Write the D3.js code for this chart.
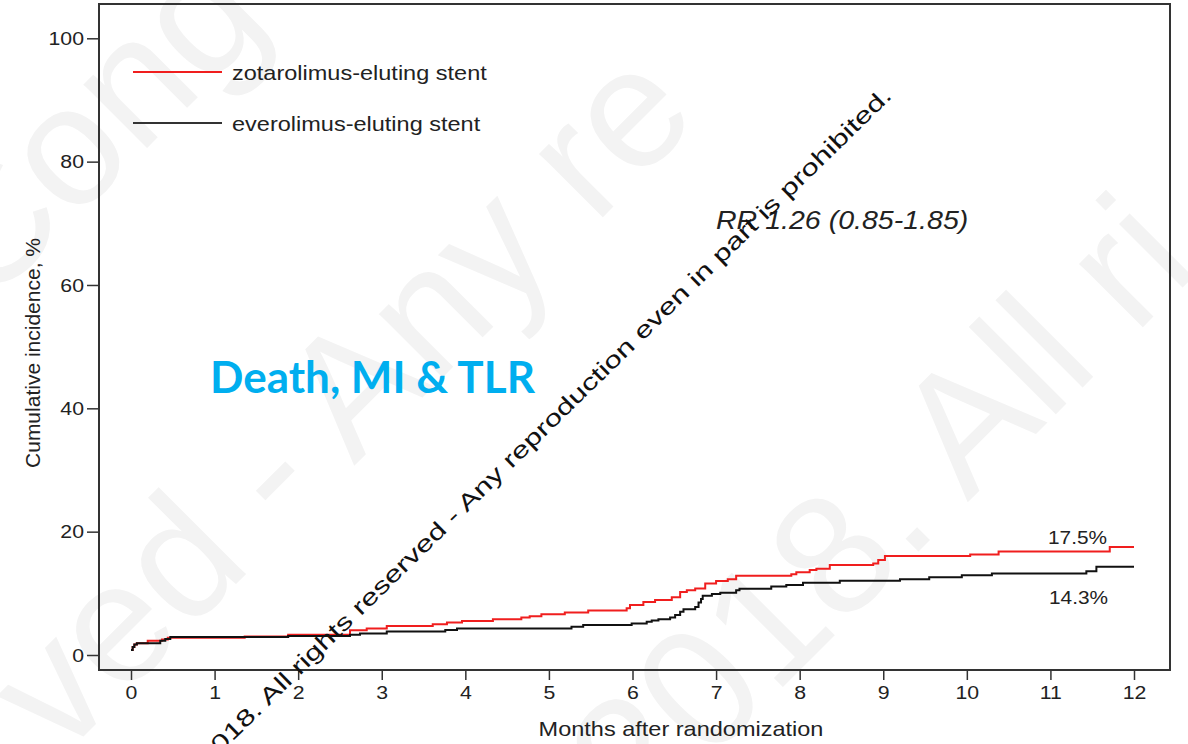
<!DOCTYPE html>
<html>
<head>
<meta charset="utf-8">
<script src="https://cdn.jsdelivr.net/npm/d3@7/dist/d3.min.js"></script>
<style>
  html, body { margin: 0; padding: 0; background: #fff; }
  svg { display: block; }
  .tick text { font-family: "Liberation Sans", Arial, sans-serif; fill: #222; }
</style>
</head>
<body>
<svg id="chart" width="1188" height="744"></svg>
<script>
// Cumulative incidence of death, MI & TLR over 12 months (Kaplan-Meier style steps)
const zotaTimes  = [0, 0.02, 0.04, 0.07, 0.2, 0.37, 0.44, 1.36, 1.88, 2.62, 2.82, 3.06, 3.61, 3.78, 3.96, 4.33, 4.67, 4.77, 4.91, 5.19, 5.47, 5.93, 5.97, 6.13, 6.27, 6.47, 6.57, 6.65, 6.75, 6.87, 7.0, 7.14, 7.24, 7.9, 7.96, 8.12, 8.2, 8.36, 8.88, 8.94, 9.02, 10.04, 10.38, 11.71, 12];
const zotaValues = [0.8, 1.3, 1.7, 1.9, 2.3, 2.5, 2.8, 3.0, 3.3, 4.0, 4.3, 4.7, 5.0, 5.25, 5.5, 5.8, 6.1, 6.3, 6.6, 6.9, 7.2, 7.6, 8.1, 8.6, 8.9, 9.35, 10.2, 10.5, 10.8, 11.6, 12.0, 12.3, 12.85, 13.1, 13.4, 13.8, 14.0, 14.6, 14.85, 15.4, 16.05, 16.3, 16.8, 17.5, 17.5];

const everoTimes  = [0, 0.02, 0.04, 0.07, 0.35, 0.41, 0.47, 1.88, 2.62, 2.74, 3.06, 3.76, 3.9, 5.27, 5.41, 5.99, 6.17, 6.23, 6.31, 6.45, 6.51, 6.57, 6.61, 6.75, 6.79, 6.82, 6.84, 6.95, 7.05, 7.24, 7.28, 7.66, 7.84, 8.04, 8.48, 9.2, 9.55, 9.94, 10.3, 11.43, 11.55, 12];
const everoValues = [0.8, 1.3, 1.7, 1.9, 2.3, 2.6, 2.9, 3.1, 3.3, 3.5, 3.8, 4.05, 4.3, 4.6, 4.85, 5.1, 5.4, 5.6, 5.8, 6.1, 6.5, 7.0, 7.4, 7.8, 8.5, 9.1, 9.6, 9.9, 10.1, 10.5, 10.75, 11.1, 11.35, 11.7, 12.05, 12.3, 12.6, 12.95, 13.2, 13.6, 14.3, 14.3];

const xTicks = [0, 1, 2, 3, 4, 5, 6, 7, 8, 9, 10, 11, 12];
const yTicks = [0, 20, 40, 60, 80, 100];

const seriesNames  = ["zotarolimus-eluting stent", "everolimus-eluting stent"];
const endLabels    = ["17.5%", "14.3%"];
const endpointName = "Death, MI & TLR";
const riskRatio    = "RR 1.26 (0.85-1.85)";
const notice       = "2018. All rights reserved - Any reproduction even in part is prohibited.";
const bgWords      = ["Cong", "ved - Any re", "2018. All ri"];

const SANS = '"Liberation Sans", Arial, sans-serif';
const RED = "#f01e1e";
const BLACK = "#111";
const SX = 1.12;   // the figure's lettering is slightly wide

const svg = d3.select("#chart");
svg.append("rect").attr("width", 1188).attr("height", 744).attr("fill", "#fff");

// wide-set text helper
function wideText(px, py, str, size, opts = {}) {
  return svg.append("text")
    .attr("transform", `translate(${px},${py}) scale(${opts.sx || SX},1)`)
    .attr("text-anchor", opts.anchor || "start")
    .style("font-family", SANS)
    .style("font-size", size + "px")
    .style("font-style", opts.italic ? "italic" : "normal")
    .attr("fill", opts.fill || "#222")
    .text(str);
}

// faint background lettering
const bg = svg.append("g").attr("fill", "#f3f3f3")
  .style("font-family", SANS)
  .style("font-size", "170px");
const bgPos = [[-15, 310], [60, 760], [640, 830]];
bgWords.forEach((w, i) => {
  bg.append("text")
    .attr("transform", `translate(${bgPos[i][0]},${bgPos[i][1]}) rotate(-45)`)
    .text(w);
});

const box = { left: 99, top: 4, right: 1170, bottom: 670 };

const x = d3.scaleLinear().domain([0, 12]).range([131, 1134]);
const y = d3.scaleLinear().domain([0, 100]).range([655, 38.3]);

// axes
const yAxis = d3.axisLeft(y).tickValues(yTicks).tickSize(12).tickPadding(3);
const gy = svg.append("g").attr("transform", `translate(${box.left},0)`).call(yAxis);
gy.select(".domain").remove();
gy.selectAll(".tick line").attr("stroke", "#333").attr("stroke-width", 1.5);
gy.selectAll(".tick text").style("font-size", "19px")
  .attr("transform", `scale(${SX},1)`).attr("x", -15 / SX);

const xAxis = d3.axisBottom(x).tickValues(xTicks).tickSize(10).tickPadding(6);
const gx = svg.append("g").attr("transform", `translate(0,${box.bottom})`).call(xAxis);
gx.select(".domain").remove();
gx.selectAll(".tick line").attr("stroke", "#333").attr("stroke-width", 1.5);
gx.selectAll(".tick text").style("font-size", "19px")
  .attr("transform", `scale(${SX},1)`);

// plot frame
svg.append("rect")
  .attr("x", box.left).attr("y", box.top)
  .attr("width", box.right - box.left).attr("height", box.bottom - box.top)
  .attr("fill", "none").attr("stroke", "#333").attr("stroke-width", 2);

// axis titles
wideText(681, 736, "Months after randomization", 21, { anchor: "middle" });

svg.append("text")
  .attr("transform", `translate(40,353) rotate(-90)`)
  .attr("text-anchor", "middle")
  .style("font-family", SANS).style("font-size", "21px").attr("fill", "#222")
  .text("Cumulative incidence, %");

// step curves
const line = d3.line()
  .x(d => x(d[0]))
  .y(d => y(d[1]))
  .curve(d3.curveStepAfter);

const zota = d3.zip(zotaTimes, zotaValues);
const evero = d3.zip(everoTimes, everoValues);

svg.append("path").datum(zota)
  .attr("d", line).attr("fill", "none")
  .attr("stroke", RED).attr("stroke-width", 2);
svg.append("path").datum(evero)
  .attr("d", line).attr("fill", "none")
  .attr("stroke", BLACK).attr("stroke-width", 2);

// legend
const legend = [
  { name: seriesNames[0], color: RED, y: 72 },
  { name: seriesNames[1], color: "#333", y: 123 }
];
legend.forEach(d => {
  svg.append("line")
    .attr("x1", 133).attr("x2", 222).attr("y1", d.y).attr("y2", d.y)
    .attr("stroke", d.color).attr("stroke-width", 2);
  wideText(232, d.y + 8, d.name, 21);
});

// end-of-follow-up labels
const lastZ = zotaValues[zotaValues.length - 1];
const lastE = everoValues[everoValues.length - 1];
wideText(1048, y(lastZ) - 3, endLabels[0], 18.6);
wideText(1049, y(lastE) + 37, endLabels[1], 18.6);

// risk ratio
wideText(716, 229, riskRatio, 25.5, { italic: true });

// endpoint title
svg.append("text")
  .attr("x", 210).attr("y", 393)
  .style("font-family", "Lato, 'Open Sans', sans-serif").style("font-weight", "bold")
  .style("font-size", "44px").attr("fill", "#00aeef")
  .text(endpointName);

// diagonal notice
svg.append("text")
  .attr("transform", "translate(893,97) rotate(-44.3)")
  .attr("text-anchor", "end")
  .attr("textLength", 958).attr("lengthAdjust", "spacingAndGlyphs")
  .style("font-family", SANS).style("font-size", "23px").attr("fill", "#111")
  .text(notice);
</script>
</body>
</html>
